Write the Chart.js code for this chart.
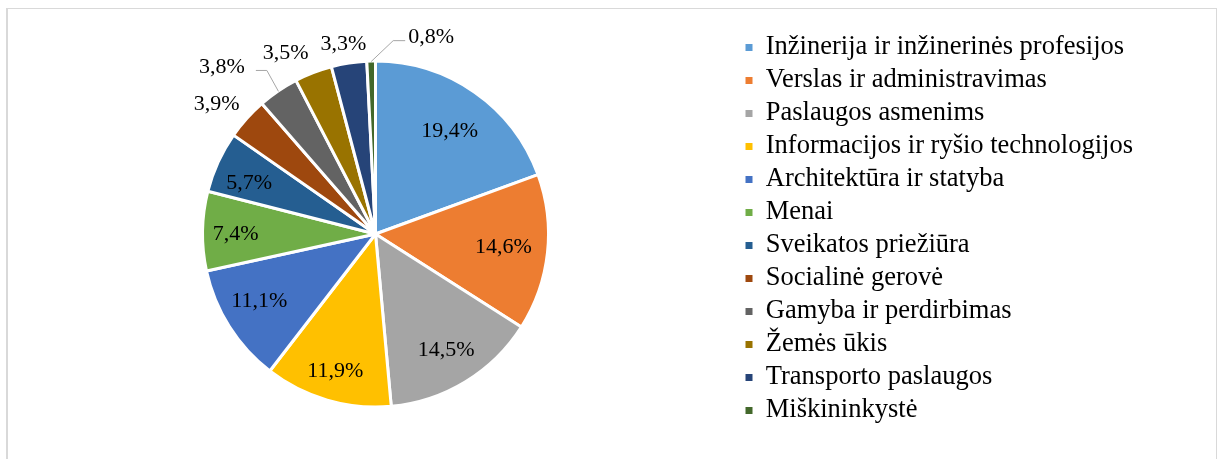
<!DOCTYPE html>
<html>
<head>
<meta charset="utf-8">
<script src="https://cdn.jsdelivr.net/npm/chart.js@4/dist/chart.umd.min.js"></script>
<style>
  html, body { margin: 0; padding: 0; background: #fff; }
  #wrap { position: relative; width: 1219px; height: 459px; overflow: hidden; }
  #frame {
    position: absolute; left: 6px; top: 8px; width: 1208px; height: 470px;
    border: 1px solid #d9d9d9; border-left-width: 2px;
  }
  #chart { position: absolute; left: 0; top: 0; }
</style>
</head>
<body>
<div id="wrap">
  <div id="frame"></div>
  <canvas id="chart" width="1219" height="459"></canvas>
</div>
<script>
// Data
const categories = [
    'Inžinerija ir inžinerinės profesijos',
    'Verslas ir administravimas',
    'Paslaugos asmenims',
    'Informacijos ir ryšio technologijos',
    'Architektūra ir statyba',
    'Menai',
    'Sveikatos priežiūra',
    'Socialinė gerovė',
    'Gamyba ir perdirbimas',
    'Žemės ūkis',
    'Transporto paslaugos',
    'Miškininkystė'
];
const shares = [19.4, 14.6, 14.5, 11.9, 11.1, 7.4, 5.7, 3.9, 3.8, 3.5, 3.3, 0.8];

const sliceColors = [
    '#5B9BD5', '#ED7D31', '#A5A5A5', '#FFC000', '#4472C4', '#70AD47',
    '#255E91', '#9E480E', '#636363', '#997300', '#264478', '#43682B'
];

// label placement, relative to each slice's middle angle:
// turn = angle nudge in degrees; depth = fraction of radius (inside)
// or gap = pixels beyond the rim (outside); leader = gap/length of the callout line
const labelSpots = [
    { turn: 0.3,  depth: 0.748 },
    { turn: -1.2, depth: 0.749 },
    { turn: -0.4, depth: 0.783 },
    { turn: 0.3,  depth: 0.823 },
    { turn: 3.1,  depth: 0.777 },
    { turn: -0.3, depth: 0.816 },
    { turn: -2.1, depth: 0.797 },
    { turn: -2.2, gap: 35 },
    { turn: -8.1, gap: 56.5, leader: { gap: 11, len: 11 } },
    { turn: -5.2, gap: 31.5 },
    { turn: -0.7, gap: 22.5 },
    { turn: 17.1, gap: 34.5, leader: { gap: 3, len: 12 } }
];

const FONT = '"Liberation Serif", "Times New Roman", serif';
const LABEL_SIZE = 22;

function fmt(v) {
    return v.toFixed(1).replace('.', ',') + '%';
}

// value labels inside / outside the slices
const sliceLabels = {
    id: 'sliceLabels',
    afterDatasetsDraw(chart) {
        const ctx = chart.ctx;
        const meta = chart.getDatasetMeta(0);
        const bw = chart.data.datasets[0].borderWidth || 0;
        const lift = LABEL_SIZE * 0.338; // digit centre above baseline
        ctx.save();
        ctx.font = LABEL_SIZE + 'px ' + FONT;
        ctx.fillStyle = '#000';
        ctx.textAlign = 'center';
        ctx.textBaseline = 'alphabetic';
        meta.data.forEach((arc, i) => {
            const p = arc.getProps(['x', 'y', 'startAngle', 'endAngle', 'outerRadius'], true);
            const R = p.outerRadius - bw / 2;
            const mid = (p.startAngle + p.endAngle) / 2;
            const spot = labelSpots[i];
            const a = mid + spot.turn * Math.PI / 180;
            const r = spot.depth !== undefined ? R * spot.depth : R + spot.gap;
            const lx = p.x + Math.cos(a) * r;
            const ly = p.y + Math.sin(a) * r;
            const text = fmt(shares[i]);
            ctx.fillText(text, lx, ly + lift);
            if (spot.leader) {
                const w = ctx.measureText(text).width;
                const ex = p.x + Math.cos(mid) * (R + 1);
                const ey = p.y + Math.sin(mid) * (R + 1);
                const side = ex > lx ? 1 : -1;
                const sx = lx + side * (w / 2 + spot.leader.gap);
                const kx = sx + side * spot.leader.len;
                ctx.beginPath();
                ctx.strokeStyle = '#a6a6a6';
                ctx.lineWidth = 1;
                ctx.moveTo(sx, ly + 5);
                ctx.lineTo(kx, ly + 5);
                ctx.lineTo(ex, ey);
                ctx.stroke();
            }
        });
        ctx.restore();
    }
};

// lift the legend block a little above the pie centre
const legendNudge = {
    id: 'legendNudge',
    afterLayout(chart) {
        chart.legend.top -= 5;
        chart.legend.bottom -= 5;
    }
};

new Chart(document.getElementById('chart'), {
    type: 'pie',
    data: {
        labels: categories,
        datasets: [{
            data: shares,
            backgroundColor: sliceColors,
            borderColor: '#ffffff',
            borderWidth: 3,
            radius: 173
        }]
    },
    options: {
        responsive: false,
        animation: false,
        layout: { padding: { left: 12, right: 76, top: 9, bottom: 0 } },
        plugins: {
            tooltip: { enabled: false },
            legend: {
                position: 'right',
                labels: {
                    boxWidth: 7,
                    boxHeight: 7,
                    padding: 6.5,
                    color: '#000',
                    font: { family: FONT, size: 26.5 },
                    generateLabels: (chart) => categories.map((text, i) => ({
                        text,
                        fillStyle: sliceColors[i],
                        strokeStyle: sliceColors[i],
                        lineWidth: 0,
                        hidden: false,
                        index: i
                    }))
                }
            }
        }
    },
    plugins: [sliceLabels, legendNudge]
});
</script>
</body>
</html>
